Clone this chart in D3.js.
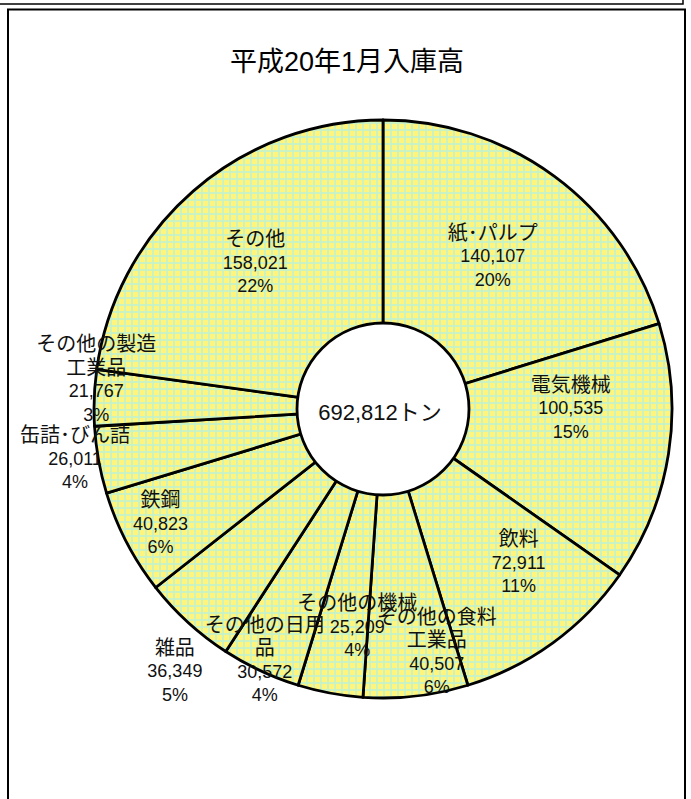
<!DOCTYPE html>
<html><head><meta charset="utf-8">
<script src="https://cdn.jsdelivr.net/npm/d3@7"></script>
<style>body{margin:0;background:#fff;overflow:hidden}</style>
</head><body><svg id="c" width="691" height="799"></svg>
<script>
// ---- data ----
const title = "平成20年1月入庫高";
const totalLabel = "692,812トン";
const categories = ["紙･パルプ","電気機械","飲料","その他の食料工業品","その他の機械","その他の日用品","雑品","鉄鋼","缶詰･びん詰","その他の製造工業品","その他"];
const categoryLines = [["紙･パルプ"],["電気機械"],["飲料"],["その他の食料","工業品"],["その他の機械"],["その他の日用","品"],["雑品"],["鉄鋼"],["缶詰･びん詰"],["その他の製造","工業品"],["その他"]];
const values = [140107,100535,72911,40507,25209,30572,36349,40823,26011,21767,158021];
const percents = ["20%","15%","11%","6%","4%","4%","5%","6%","4%","3%","22%"];

// ---- layout ----
const labelNudge = [[-3,0],[0,-30],[24,0],[32,54],[9,31],[-38,79],[-80,122],[-54,27],[-121,16],[-97,-22],[-3,-3]];
const W = 691, H = 799;
const cx = 383, cy = 409, R = 289, R0 = 86;
const FONT = "'Liberation Sans', Arial, 'Noto Sans CJK JP', sans-serif";

const svg = d3.select("#c");
const defs = svg.append("defs");
const pat = defs.append("pattern").attr("id","plaid").attr("patternUnits","userSpaceOnUse")
  .attr("width",7).attr("height",7);
pat.append("rect").attr("width",7).attr("height",7).attr("fill","#fff57c");
pat.append("rect").attr("x",0).attr("y",0).attr("width",7).attr("height",2).attr("fill","#bff2d0").attr("opacity",0.8);
pat.append("rect").attr("x",0).attr("y",0).attr("width",2).attr("height",7).attr("fill","#bff2d0").attr("opacity",0.8);

// frames
svg.append("rect").attr("x",-2).attr("y",-2).attr("width",685).attr("height",6)
  .attr("fill","none").attr("stroke","#000").attr("stroke-width",1.5);
svg.append("rect").attr("x",8).attr("y",9.5).attr("width",677).attr("height",H+10)
  .attr("fill","#fff").attr("stroke","#000").attr("stroke-width",2);

svg.append("text").attr("x",347).attr("y",62).attr("text-anchor","middle")
  .attr("dominant-baseline","central").attr("font-family",FONT).attr("font-size",27)
  .text(title);

const g = svg.append("g").attr("transform",`translate(${cx},${cy})`);
const pie = d3.pie().sort(null).value(d=>d)(values);
const arc = d3.arc().innerRadius(0).outerRadius(R);
g.selectAll("path.s").data(pie).join("path").attr("class","s")
  .attr("d",arc).attr("fill","url(#plaid)").attr("stroke","#000").attr("stroke-width",2.8)
  .attr("stroke-linejoin","round");
g.append("circle").attr("r",R0).attr("fill","#fff").attr("stroke","#000").attr("stroke-width",2.8);

g.append("text").attr("x",-3).attr("y",3).attr("text-anchor","middle").attr("dominant-baseline","central")
  .attr("font-family",FONT).attr("font-size",22).attr("fill","#111").text(totalLabel);

const labelArc = d3.arc().innerRadius(190).outerRadius(190);
const LH = 23.5;
pie.forEach((p,i)=>{
  const c = labelArc.centroid(p);
  const x = c[0] + labelNudge[i][0], y = c[1] + labelNudge[i][1];
  const nameLines = categoryLines[i];
  const lines = nameLines.concat([d3.format(",")(values[i]), percents[i]]);
  const t = g.append("text").attr("text-anchor","middle").attr("font-family",FONT)
    .attr("fill","#111");
  const y0 = y - (lines.length-1)/2*LH;
  lines.forEach((s,j)=>{
    t.append("tspan").attr("x",x).attr("y",y0+j*LH).attr("dominant-baseline","central")
      .attr("font-size", j < nameLines.length ? 20 : 18).text(s);
  });
});
</script></body></html>
